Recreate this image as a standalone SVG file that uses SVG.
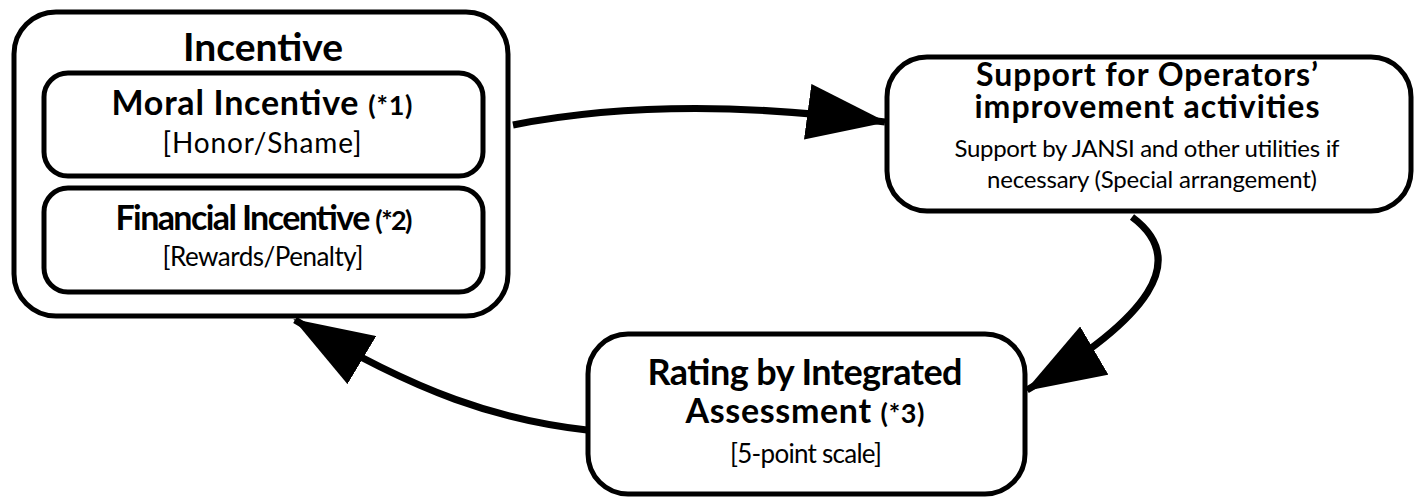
<svg xmlns="http://www.w3.org/2000/svg" width="1416" height="498" viewBox="0 0 1416 498">
  <style>
    .box { fill: #ffffff; stroke: #000000; stroke-width: 5; }
    .link { fill: none; stroke: #000000; stroke-width: 7; }
    text { font-family: Lato, "Open Sans", "Liberation Sans", sans-serif; fill: #000000; text-anchor: middle; }
    .b { font-weight: 700; }
    .t1 { font-size: 39px; }
    .t2 { font-size: 34px; }
    .t2s { font-size: 27px; }
    .t3 { font-size: 32px; }
    .sub { font-size: 26px; }
    .sub2 { font-size: 24px; }
  </style>
  <defs>
    <marker id="head" markerUnits="userSpaceOnUse" viewBox="0 0 80 56" refX="78" refY="28" markerWidth="80" markerHeight="56" orient="auto">
      <polygon points="0,0 80,28 0,56" fill="#000000"/>
    </marker>
  </defs>

  <!-- connectors -->
  <g id="connectors">
    <path class="link" d="M513,125 C600,108 720,100 885,122" marker-end="url(#head)"/>
    <path class="link" d="M1132,217 C1190,260 1150,318 1027,390" marker-end="url(#head)"/>
    <path class="link" d="M587,430 C500,420 420,395 295,320" marker-end="url(#head)"/>
  </g>

  <!-- incentive group -->
  <g id="incentive">
    <rect class="box" x="14" y="12" width="494" height="304" rx="42"/>
    <text class="b t1" x="263" y="61" textLength="160">Incentive</text>
  </g>
  <g id="moral-incentive">
    <rect class="box" x="44" y="73" width="439" height="103" rx="24"/>
    <text class="b t2" x="262" y="115" textLength="301">Moral Incentive <tspan class="t2s">(*1)</tspan></text>
    <text class="sub" x="262" y="153" style="font-size:28px" textLength="199">[Honor/Shame]</text>
  </g>
  <g id="financial-incentive">
    <rect class="box" x="44" y="188" width="439" height="104" rx="24"/>
    <text class="b t2" x="264" y="230" textLength="297">Financial Incentive <tspan class="t2s">(*2)</tspan></text>
    <text class="sub" x="263" y="266" textLength="201">[Rewards/Penalty]</text>
  </g>

  <!-- support node -->
  <g id="support">
    <rect class="box" x="887" y="57" width="524" height="154" rx="40"/>
    <text class="b t3" x="1147" y="86" textLength="342">Support for Operators’</text>
    <text class="b t3" x="1147" y="118" textLength="345">improvement activities</text>
    <text class="sub2" x="1147" y="157" textLength="385">Support by JANSI and other utilities if</text>
    <text class="sub2" x="1152" y="188" textLength="330">necessary (Special arrangement)</text>
  </g>

  <!-- rating node -->
  <g id="rating">
    <rect class="box" x="588" y="334" width="437" height="160" rx="40"/>
    <text class="b t2" x="805" y="385" style="font-size:36px" textLength="315">Rating by Integrated</text>
    <text class="b t2" x="805" y="423" textLength="239">Assessment <tspan class="t2s">(*3)</tspan></text>
    <text class="sub" x="806" y="463" textLength="152">[5-point scale]</text>
  </g>
</svg>
